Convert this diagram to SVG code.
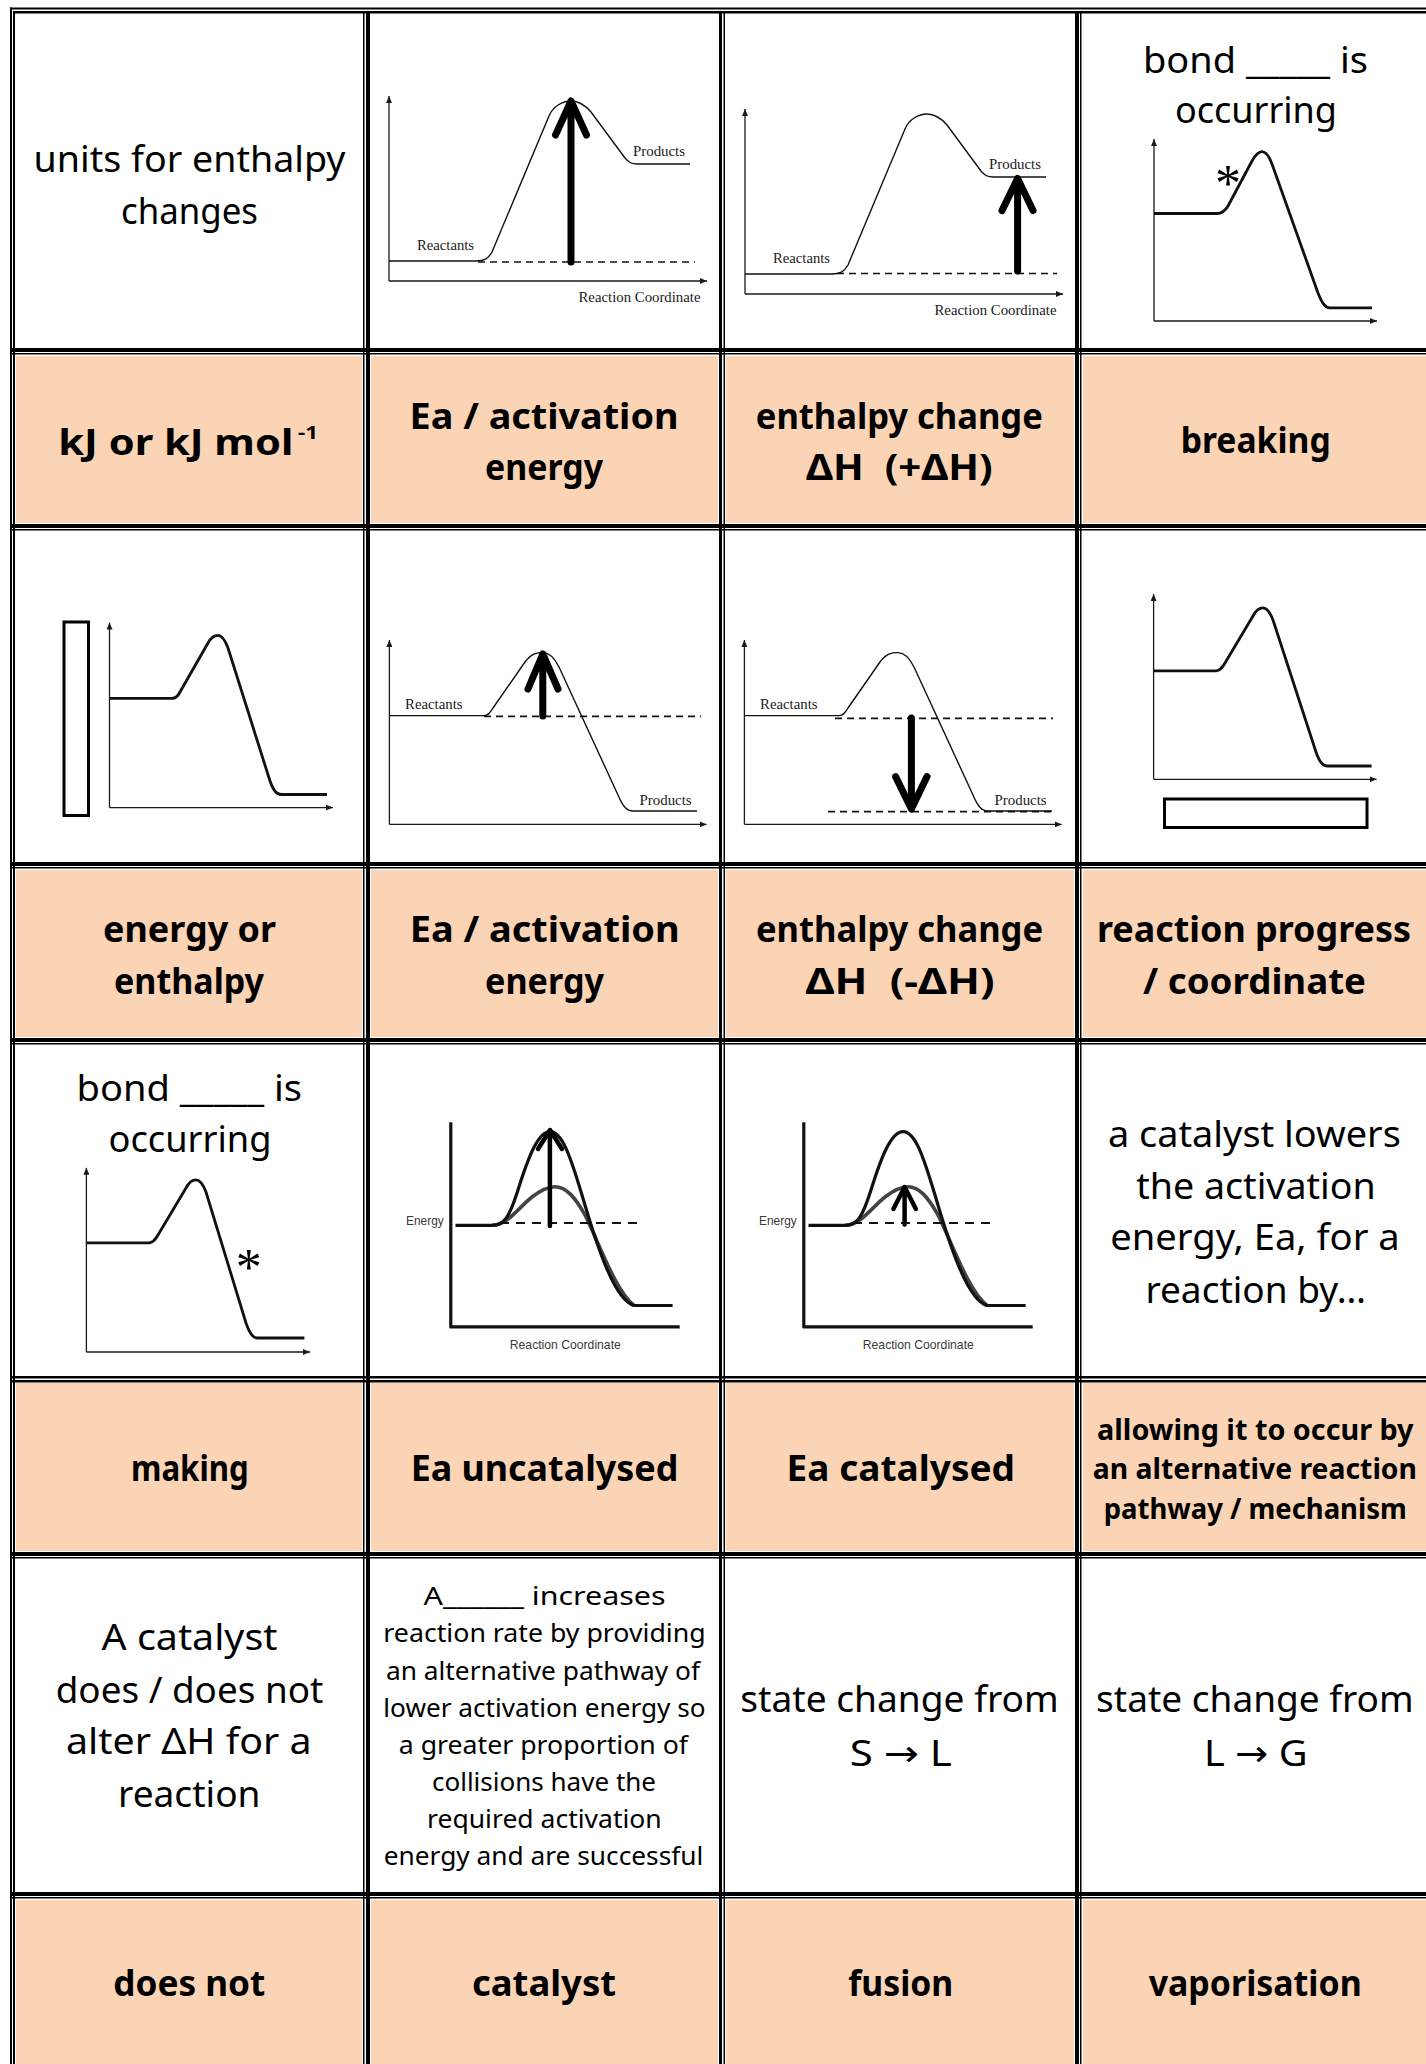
<svg xmlns="http://www.w3.org/2000/svg" width="1426" height="2064" viewBox="0 0 1426 2064">
<style>
.t{font-family:"Noto Sans","DejaVu Sans",sans-serif;font-size:36px;fill:#000;text-anchor:middle}
.b{font-weight:700}
.p{font-size:26px}
.q{font-size:28px}
.lbl{font-family:"Liberation Serif",serif;font-size:14px;fill:#1a1a1a}
.lbs{font-family:"Liberation Sans",sans-serif;font-size:13px;fill:#3a3a3a}
.ax{fill:none;stroke:#1a1a1a;stroke-width:1.3}
.cv{fill:none;stroke:#111;stroke-width:1.4;stroke-linejoin:round}
.ds{fill:none;stroke:#111;stroke-width:1.7;stroke-dasharray:7 5}
.dc{fill:none;stroke:#111;stroke-width:2;stroke-dasharray:9 7}
.big{fill:none;stroke:#000;stroke-width:7;stroke-linecap:round;stroke-linejoin:round}
.big2{fill:none;stroke:#000;stroke-width:4.5;stroke-linecap:round;stroke-linejoin:round}
.pr{fill:none;stroke:#111;stroke-width:2.8;stroke-linejoin:round}
.bx{fill:none;stroke:#000;stroke-width:3}
.ca{fill:none;stroke:#111;stroke-width:3.2;stroke-linejoin:round}
.cg{fill:none;stroke:#444;stroke-width:3.6;stroke-linejoin:round}
.ast{font-family:"Liberation Serif",serif;font-size:52px;fill:#000;text-anchor:middle}
.pf{fill:#FAD4B4}
.gw{fill:#fff}
.gk{fill:#000}
</style>
<defs>
<marker id="ah" markerUnits="userSpaceOnUse" markerWidth="8" markerHeight="6" refX="7" refY="3" orient="auto">
<path d="M0,0 L7,3 L0,6 z" fill="#1a1a1a"/>
</marker>
</defs>
<rect x="0" y="0" width="1426" height="2064" fill="#fff"/>

<!-- peach row backgrounds -->
<g id="backgrounds">
<rect class="pf" x="10" y="348" width="1416" height="183"/>
<rect class="pf" x="10" y="862" width="1416" height="183"/>
<rect class="pf" x="10" y="1376" width="1416" height="183"/>
<rect class="pf" x="10" y="1892" width="1416" height="172"/>
</g>

<!-- table grid lines -->
<g id="grid">
<rect class="gw" x="9" y="6" width="7" height="2058"/>
<rect class="gw" x="362" y="6" width="9" height="2058"/>
<rect class="gw" x="718" y="6" width="8" height="2058"/>
<rect class="gw" x="1074" y="6" width="9" height="2058"/>
<rect class="gw" x="9" y="6" width="1417" height="8"/>
<rect class="gw" x="9" y="347" width="1417" height="9"/>
<rect class="gw" x="9" y="523" width="1417" height="9"/>
<rect class="gw" x="9" y="861" width="1417" height="9"/>
<rect class="gw" x="9" y="1037" width="1417" height="9"/>
<rect class="gw" x="9" y="1375" width="1417" height="8"/>
<rect class="gw" x="9" y="1551" width="1417" height="9"/>
<rect class="gw" x="9" y="1891" width="1417" height="9"/>
<rect class="gk" x="10" y="7.5" width="2" height="2057"/>
<rect class="gk" x="13" y="11" width="2" height="2053"/>
<rect class="gk" x="363" y="11" width="1.5" height="2053"/>
<rect class="gk" x="366" y="11" width="4" height="2053"/>
<rect class="gk" x="719" y="11" width="3" height="2053"/>
<rect class="gk" x="723.5" y="11" width="1.5" height="2053"/>
<rect class="gk" x="1075" y="11" width="4" height="2053"/>
<rect class="gk" x="1080" y="11" width="1.5" height="2053"/>
<rect class="gk" x="10" y="7.5" width="1416" height="2"/>
<rect class="gk" x="13" y="11" width="1413" height="2.5"/>
<rect class="gk" x="10" y="348" width="1416" height="4"/>
<rect class="gk" x="10" y="353" width="1416" height="1.5"/>
<rect class="gk" x="10" y="524" width="1416" height="4"/>
<rect class="gk" x="10" y="529" width="1416" height="1.5"/>
<rect class="gk" x="10" y="862" width="1416" height="4"/>
<rect class="gk" x="10" y="867" width="1416" height="1.5"/>
<rect class="gk" x="10" y="1038" width="1416" height="4"/>
<rect class="gk" x="10" y="1043" width="1416" height="1.5"/>
<rect class="gk" x="10" y="1376" width="1416" height="2.5"/>
<rect class="gk" x="10" y="1380" width="1416" height="2.5"/>
<rect class="gk" x="10" y="1552" width="1416" height="4"/>
<rect class="gk" x="10" y="1557" width="1416" height="1.5"/>
<rect class="gk" x="10" y="1892" width="1416" height="4"/>
<rect class="gk" x="10" y="1897" width="1416" height="1.5"/>
</g>

<g id="connectors"></g>

<!-- ROW 1 -->
<g id="r1c1">
<text class="t" x="189.5" y="172" textLength="312" lengthAdjust="spacingAndGlyphs">units for enthalpy</text>
<text class="t" x="189.5" y="224" textLength="137" lengthAdjust="spacingAndGlyphs">changes</text>
</g>

<g id="r1c2">
<path class="ax" d="M389,281 V96" marker-end="url(#ah)"/>
<path class="ax" d="M389,281 H707" marker-end="url(#ah)"/>
<path class="cv" d="M389,261 H476 C484,261 488,259 492,252 L549,116 C553,106 563,101 571,101 C579,101 585,105 591,112 L625,158 C629,163 632,164 637,164 H690"/>
<text class="lbl" x="417" y="250" textLength="57" lengthAdjust="spacingAndGlyphs">Reactants</text>
<text class="lbl" x="633" y="156" textLength="52" lengthAdjust="spacingAndGlyphs">Products</text>
<text class="lbl" x="578.5" y="302" textLength="122" lengthAdjust="spacingAndGlyphs">Reaction Coordinate</text>
<path class="ds" d="M478,262 H695"/>
<path class="big" d="M571,262 V104 M555.5,135 L571,101 L586.5,135"/>
</g>

<g id="r1c3">
<g transform="translate(356,13)">
<path class="ax" d="M389,281 V96" marker-end="url(#ah)"/>
<path class="ax" d="M389,281 H707" marker-end="url(#ah)"/>
<path class="cv" d="M389,261 H476 C484,261 488,259 492,252 L549,116 C553,106 563,101 571,101 C579,101 585,105 591,112 L625,158 C629,163 632,164 637,164 H690"/>
<text class="lbl" x="417" y="250" textLength="57" lengthAdjust="spacingAndGlyphs">Reactants</text>
<text class="lbl" x="633" y="156" textLength="52" lengthAdjust="spacingAndGlyphs">Products</text>
<text class="lbl" x="578.5" y="302" textLength="122" lengthAdjust="spacingAndGlyphs">Reaction Coordinate</text>
</g>
<path class="ds" d="M837,273.5 H1057"/>
<path class="big" d="M1017.6,271 V182 M1002,210.6 L1017.6,178.5 L1033,210.6"/>
</g>

<g id="r1c4">
<text class="t" x="1255.5" y="73" textLength="225" lengthAdjust="spacingAndGlyphs">bond _____ is</text>
<text class="t" x="1256" y="123" textLength="162" lengthAdjust="spacingAndGlyphs">occurring</text>
<path class="ax" d="M1154,321 V139" marker-end="url(#ah)"/>
<path class="ax" d="M1154,321 H1377" marker-end="url(#ah)"/>
<path class="pr" d="M1154,213.5 H1217 C1222,213.5 1225,211 1228,206 L1252,161 C1256,154 1259,151.7 1262,151.7 C1266,151.7 1269,156 1272,164 L1318,293 C1322,303 1325,307.8 1330,307.8 H1372"/>
<text class="ast" x="1228" y="201">*</text>
</g>

<!-- ROW 2 -->
<g id="r2c1">
<text class="t b" x="58.3" y="455.4" style="text-anchor:start" textLength="235" lengthAdjust="spacingAndGlyphs">kJ or kJ mol</text>
<text class="t b" x="298" y="438.6" style="text-anchor:start;font-size:18px" textLength="20" lengthAdjust="spacingAndGlyphs">-1</text>
</g>
<g id="r2c2">
<text class="t b" x="544.1" y="428.6" textLength="269" lengthAdjust="spacingAndGlyphs">Ea / activation</text>
<text class="t b" x="544" y="480.4" textLength="118" lengthAdjust="spacingAndGlyphs">energy</text>
</g>
<g id="r2c3">
<text class="t b" x="899.3" y="428.6" textLength="287" lengthAdjust="spacingAndGlyphs">enthalpy change</text>
<text class="t b" x="899.3" y="480.4" textLength="186.5" lengthAdjust="spacingAndGlyphs">ΔH&#160; (+ΔH)</text>
</g>
<g id="r2c4">
<text class="t b" x="1255.7" y="452.8" textLength="150" lengthAdjust="spacingAndGlyphs">breaking</text>
</g>

<!-- ROW 3 -->
<g id="r3c1">
<rect class="bx" x="64" y="622" width="24.5" height="193.5"/>
<path class="ax" d="M109.5,807.6 V622.6" marker-end="url(#ah)"/>
<path class="ax" d="M109.5,807.6 H333" marker-end="url(#ah)"/>
<path class="pr" d="M109.5,698.4 H172 C176,698.4 178,696 180,692 L208,643 C211,637.5 214,635.4 218,635.4 C222,635.4 225,640 228,648 L270,781 C273,790 276,794.5 281,794.5 H327"/>
</g>

<g id="r3c2">
<path class="ax" d="M389.4,824.4 V640" marker-end="url(#ah)"/>
<path class="ax" d="M389.4,824.4 H706.6" marker-end="url(#ah)"/>
<path class="cv" d="M389.4,715.6 H484 C488,715.6 490,713 493,708 L525,662 C532,653 537,652.6 543,652.6 C549,652.6 554,657 559,667 L618,795 C623,807 627,811 633,811 H697"/>
<text class="lbl" x="405" y="709.4" textLength="57.6" lengthAdjust="spacingAndGlyphs">Reactants</text>
<text class="lbl" x="639.6" y="805" textLength="52" lengthAdjust="spacingAndGlyphs">Products</text>
<path class="ds" d="M484,716.3 H701"/>
<path class="big" d="M542.8,716 V658 M528,689 L542.8,654 L558,689"/>
</g>

<g id="r3c3">
<g transform="translate(355,0)">
<path class="ax" d="M389.4,824.4 V640" marker-end="url(#ah)"/>
<path class="ax" d="M389.4,824.4 H706.6" marker-end="url(#ah)"/>
<path class="cv" d="M389.4,715.6 H484 C488,715.6 490,713 493,708 L525,662 C532,653 537,652.6 543,652.6 C549,652.6 554,657 559,667 L618,795 C623,807 627,811 633,811 H697"/>
<text class="lbl" x="405" y="709.4" textLength="57.6" lengthAdjust="spacingAndGlyphs">Reactants</text>
<text class="lbl" x="639.6" y="805" textLength="52" lengthAdjust="spacingAndGlyphs">Products</text>
</g>
<path class="ds" d="M835,718.4 H1053"/>
<path class="ds" d="M828,811.7 H1052"/>
<path class="big" d="M911.4,718 V805 M895.6,776.6 L911.4,809 L927,776.6"/>
</g>

<g id="r3c4">
<path class="ax" d="M1153.6,779.3 V594" marker-end="url(#ah)"/>
<path class="ax" d="M1153.6,779.3 H1376.6" marker-end="url(#ah)"/>
<path class="pr" d="M1153.6,670.8 H1216 C1220,670.8 1222,668 1225,663 L1253,616 C1256,610 1259,607.8 1263,607.8 C1267,607.8 1270,612 1273,620 L1316,752 C1319,761 1322,766 1327,766 H1371.6"/>
<rect class="bx" x="1164.5" y="799" width="202.5" height="28.5"/>
</g>

<!-- ROW 4 -->
<g id="r4c1">
<text class="t b" x="189.5" y="941.9" textLength="173" lengthAdjust="spacingAndGlyphs">energy or</text>
<text class="t b" x="189" y="993.6" textLength="150" lengthAdjust="spacingAndGlyphs">enthalpy</text>
</g>
<g id="r4c2">
<text class="t b" x="544.7" y="941.9" textLength="270" lengthAdjust="spacingAndGlyphs">Ea / activation</text>
<text class="t b" x="544.5" y="993.6" textLength="119" lengthAdjust="spacingAndGlyphs">energy</text>
</g>
<g id="r4c3">
<text class="t b" x="899.5" y="941.9" textLength="287" lengthAdjust="spacingAndGlyphs">enthalpy change</text>
<text class="t b" x="900" y="993.6" textLength="189" lengthAdjust="spacingAndGlyphs">ΔH&#160; (-ΔH)</text>
</g>
<g id="r4c4">
<text class="t b" x="1254" y="941.9" textLength="314" lengthAdjust="spacingAndGlyphs">reaction progress</text>
<text class="t b" x="1254.5" y="993.6" textLength="223" lengthAdjust="spacingAndGlyphs">/ coordinate</text>
</g>

<!-- ROW 5 -->
<g id="r5c1">
<text class="t" x="189.3" y="1100.6" textLength="225.5" lengthAdjust="spacingAndGlyphs">bond _____ is</text>
<text class="t" x="190" y="1152.3" textLength="163" lengthAdjust="spacingAndGlyphs">occurring</text>
<path class="ax" d="M86.4,1352 V1167.8" marker-end="url(#ah)"/>
<path class="ax" d="M86.4,1352 H310" marker-end="url(#ah)"/>
<path class="pr" d="M86.4,1242.8 H149 C153,1242.8 155,1240 158,1235 L186,1188 C189,1182 192,1179.8 196,1179.8 C200,1179.8 203,1184 206,1192 L246,1323 C249,1332 252,1338 257,1338 H304.4"/>
<text class="ast" x="248.7" y="1285">*</text>
</g>

<g id="r5c2">
<path class="ca" d="M450.8,1122.3 V1326.9 H679.7"/>
<path class="cg" d="M492,1225.3 C508,1225 518,1208 532,1197 C541,1190 548,1186.7 555,1186.7 C566,1186.7 575,1197 585,1215 C600,1245 615,1290 634,1305.5"/>
<path class="ca" d="M455.5,1225.3 H492 C505,1225.3 510,1215 518,1190 C528,1158 538,1131.6 550,1131.6 C562,1131.6 570,1155 582,1195 C598,1250 615,1300 634,1305.5 H672.6"/>
<path class="dc" d="M500,1222.9 H637"/>
<text class="lbs" x="406" y="1224.6" textLength="37.7" lengthAdjust="spacingAndGlyphs">Energy</text>
<text class="lbs" x="509.8" y="1348.6" textLength="111" lengthAdjust="spacingAndGlyphs">Reaction Coordinate</text>
<path class="big2" d="M549.9,1226 V1135 M538,1149 L550,1130 L562,1149"/>
</g>

<g id="r5c3">
<g transform="translate(353,0)">
<path class="ca" d="M450.8,1122.3 V1326.9 H679.7"/>
<path class="cg" d="M492,1225.3 C508,1225 518,1208 532,1197 C541,1190 548,1186.7 555,1186.7 C566,1186.7 575,1197 585,1215 C600,1245 615,1290 634,1305.5"/>
<path class="ca" d="M455.5,1225.3 H492 C505,1225.3 510,1215 518,1190 C528,1158 538,1131.6 550,1131.6 C562,1131.6 570,1155 582,1195 C598,1250 615,1300 634,1305.5 H672.6"/>
<path class="dc" d="M500,1222.9 H637"/>
<text class="lbs" x="406" y="1224.6" textLength="37.7" lengthAdjust="spacingAndGlyphs">Energy</text>
<text class="lbs" x="509.8" y="1348.6" textLength="111" lengthAdjust="spacingAndGlyphs">Reaction Coordinate</text>
</g>
<path class="big2" d="M904.6,1224.6 V1191 M893.4,1209 L904.6,1187 L915.9,1209"/>
</g>

<g id="r5c4">
<text class="t" x="1254.4" y="1147" textLength="292.8" lengthAdjust="spacingAndGlyphs">a catalyst lowers</text>
<text class="t" x="1256" y="1199.4" textLength="239.5" lengthAdjust="spacingAndGlyphs">the activation</text>
<text class="t" x="1255" y="1250.4" textLength="289.6" lengthAdjust="spacingAndGlyphs">energy, Ea, for a</text>
<text class="t" x="1255.7" y="1303" textLength="220.5" lengthAdjust="spacingAndGlyphs">reaction by…</text>
</g>

<!-- ROW 6 -->
<g id="r6c1">
<text class="t b" x="189.9" y="1481.2" textLength="117.7" lengthAdjust="spacingAndGlyphs">making</text>
</g>
<g id="r6c2">
<text class="t b" x="544.5" y="1481.2" textLength="267.7" lengthAdjust="spacingAndGlyphs">Ea uncatalysed</text>
</g>
<g id="r6c3">
<text class="t b" x="900.8" y="1481.2" textLength="228.4" lengthAdjust="spacingAndGlyphs">Ea catalysed</text>
</g>
<g id="r6c4">
<text class="t b q" x="1255.3" y="1439.8" textLength="316.5" lengthAdjust="spacingAndGlyphs">allowing it to occur by</text>
<text class="t b q" x="1254.9" y="1479.4" textLength="324.2" lengthAdjust="spacingAndGlyphs">an alternative reaction</text>
<text class="t b q" x="1255.2" y="1519" textLength="303" lengthAdjust="spacingAndGlyphs">pathway / mechanism</text>
</g>

<!-- ROW 7 -->
<g id="r7c1">
<text class="t" x="189.5" y="1650.3" textLength="176" lengthAdjust="spacingAndGlyphs">A catalyst</text>
<text class="t" x="189.5" y="1703" textLength="267.6" lengthAdjust="spacingAndGlyphs">does / does not</text>
<text class="t" x="188.8" y="1753.9" textLength="245.5" lengthAdjust="spacingAndGlyphs">alter ΔH for a</text>
<text class="t" x="189.3" y="1807.4" textLength="142.5" lengthAdjust="spacingAndGlyphs">reaction</text>
</g>
<g id="r7c2">
<text class="t p" x="544.5" y="1605.2" textLength="242" lengthAdjust="spacingAndGlyphs">A______ increases</text>
<text class="t p" x="544.5" y="1641.9" textLength="322.3" lengthAdjust="spacingAndGlyphs">reaction rate by providing</text>
<text class="t p" x="543" y="1679.7" textLength="314" lengthAdjust="spacingAndGlyphs">an alternative pathway of</text>
<text class="t p" x="544.5" y="1717.1" textLength="322.3" lengthAdjust="spacingAndGlyphs">lower activation energy so</text>
<text class="t p" x="543.4" y="1753.9" textLength="289.2" lengthAdjust="spacingAndGlyphs">a greater proportion of</text>
<text class="t p" x="544" y="1791.3" textLength="224.1" lengthAdjust="spacingAndGlyphs">collisions have the</text>
<text class="t p" x="544.4" y="1828.1" textLength="234.7" lengthAdjust="spacingAndGlyphs">required activation</text>
<text class="t p" x="543.5" y="1864.8" textLength="319.6" lengthAdjust="spacingAndGlyphs">energy and are successful</text>
</g>
<g id="r7c3">
<text class="t" x="899.5" y="1712" textLength="318.3" lengthAdjust="spacingAndGlyphs">state change from</text>
<text class="t" x="900.8" y="1765.6" textLength="102.2" lengthAdjust="spacingAndGlyphs">S → L</text>
</g>
<g id="r7c4">
<text class="t" x="1254.8" y="1712" textLength="317.5" lengthAdjust="spacingAndGlyphs">state change from</text>
<text class="t" x="1255.8" y="1765.6" textLength="103.6" lengthAdjust="spacingAndGlyphs">L → G</text>
</g>

<!-- ROW 8 -->
<g id="r8c1">
<text class="t b" x="189.3" y="1996.2" textLength="152" lengthAdjust="spacingAndGlyphs">does not</text>
</g>
<g id="r8c2">
<text class="t b" x="544" y="1996.2" textLength="144" lengthAdjust="spacingAndGlyphs">catalyst</text>
</g>
<g id="r8c3">
<text class="t b" x="900.8" y="1996.2" textLength="105" lengthAdjust="spacingAndGlyphs">fusion</text>
</g>
<g id="r8c4">
<text class="t b" x="1255.2" y="1996.2" textLength="213" lengthAdjust="spacingAndGlyphs">vaporisation</text>
</g>
</svg>
